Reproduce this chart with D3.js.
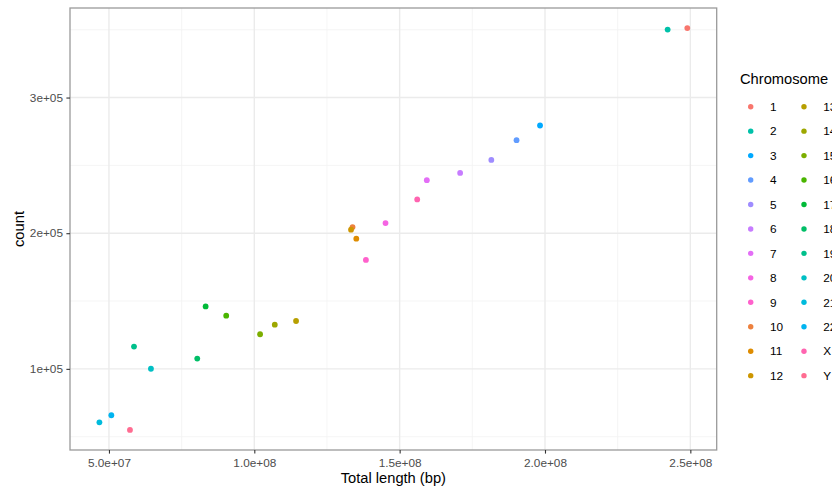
<!DOCTYPE html>
<html>
<head>
<meta charset="utf-8">
<script src="https://cdn.jsdelivr.net/npm/d3@7"></script>
<style>
  body { margin: 0; background: #fff; }
  text { font-family: "Liberation Sans", Arial, sans-serif; }
</style>
</head>
<body>
<script>
// data: chromosome, total length (bp), count
var chromosomes = ["1","2","3","4","5","6","7","8","9","10","11","12",
                   "13","14","15","16","17","18","19","20","21","22","X","Y"];
var lengths = [248956422, 242193529, 198295559, 190214555, 181538259, 170805979,
               159345973, 145138636, 138394717, 133797422, 135086622, 133275309,
               114364328, 107043718, 101991189, 90338345, 83257441, 80373285,
               58617616, 64444167, 46709983, 50818468, 156040895, 57227415];
var counts = [351200, 350100, 279400, 268600, 254000, 244400,
              239100, 207500, 180300, 204500, 196000, 202600,
              135300, 132600, 125500, 139200, 146000, 107600,
              116400, 100100, 60600, 65800, 224900, 55000];

var xTicks = [5e7, 1e8, 1.5e8, 2e8, 2.5e8];
var xTickLabels = ["5.0e+07", "1.0e+08", "1.5e+08", "2.0e+08", "2.5e+08"];
var yTicks = [1e5, 2e5, 3e5];
var yTickLabels = ["1e+05", "2e+05", "3e+05"];

var width = 832, height = 490;
var panel = { left: 70, right: 716.7, top: 8, bottom: 450 };

// ggplot hue palette (polar LUV, c=100, l=65)
function hclLuv(h, c, l) {
  var U = c * Math.cos(h * Math.PI / 180), V = c * Math.sin(h * Math.PI / 180);
  var Y = 100 * Math.pow((l + 16) / 116, 3);
  var u = U / (13 * l) + 0.1978398, v = V / (13 * l) + 0.4683363;
  var X = 9 * Y * u / (4 * v);
  var Z = -X / 3 - 5 * Y + 3 * Y / v;
  function g(t) {
    t = t > 0.00304 ? 1.055 * Math.pow(t, 1 / 2.4) - 0.055 : 12.92 * t;
    return Math.round(Math.max(0, Math.min(1, t)) * 255);
  }
  return d3.rgb(g((3.240479 * X - 1.53715 * Y - 0.498535 * Z) / 100),
                g((-0.969256 * X + 1.875992 * Y + 0.041556 * Z) / 100),
                g((0.055648 * X - 0.204043 * Y + 1.057311 * Z) / 100)).formatHex();
}
var levels = chromosomes.slice().sort(); // factor levels sorted as strings
var color = d3.scaleOrdinal()
  .domain(levels)
  .range(levels.map(function (d, i) { return hclLuv(15 + 360 * i / levels.length, 100, 65); }));

var data = chromosomes.map(function (c, i) {
  return { chr: c, len: lengths[i], count: counts[i] };
});

function expand(ext) {
  var r = ext[1] - ext[0];
  return [ext[0] - 0.05 * r, ext[1] + 0.05 * r];
}

var x = d3.scaleLinear().domain(expand(d3.extent(lengths))).range([panel.left, panel.right]);
var y = d3.scaleLinear().domain(expand(d3.extent(counts))).range([panel.bottom, panel.top]);

var svg = d3.select("body").append("svg")
  .attr("width", width)
  .attr("height", height);

// minor grid
var xMinor = xTicks.map(function (d) { return d - 2.5e7; }).concat([2.75e8])
  .filter(function (d) { return d > x.domain()[0] && d < x.domain()[1]; });
var yMinor = yTicks.map(function (d) { return d - 5e4; }).concat([3.5e5])
  .filter(function (d) { return d > y.domain()[0] && d < y.domain()[1]; });

svg.append("g").selectAll("line").data(xMinor).enter().append("line")
  .attr("x1", function (d) { return x(d); }).attr("x2", function (d) { return x(d); })
  .attr("y1", panel.top).attr("y2", panel.bottom)
  .attr("stroke", "#f2f2f2").attr("stroke-width", 0.8);
svg.append("g").selectAll("line").data(yMinor).enter().append("line")
  .attr("y1", function (d) { return y(d); }).attr("y2", function (d) { return y(d); })
  .attr("x1", panel.left).attr("x2", panel.right)
  .attr("stroke", "#f2f2f2").attr("stroke-width", 0.8);

// major grid
svg.append("g").selectAll("line").data(xTicks).enter().append("line")
  .attr("x1", function (d) { return x(d); }).attr("x2", function (d) { return x(d); })
  .attr("y1", panel.top).attr("y2", panel.bottom)
  .attr("stroke", "#ebebeb").attr("stroke-width", 1.4);
svg.append("g").selectAll("line").data(yTicks).enter().append("line")
  .attr("y1", function (d) { return y(d); }).attr("y2", function (d) { return y(d); })
  .attr("x1", panel.left).attr("x2", panel.right)
  .attr("stroke", "#ebebeb").attr("stroke-width", 1.4);

// points
svg.append("g").selectAll("circle").data(data).enter().append("circle")
  .attr("cx", function (d) { return x(d.len); })
  .attr("cy", function (d) { return y(d.count); })
  .attr("r", 2.9)
  .attr("fill", function (d) { return color(d.chr); });

// panel border
svg.append("rect")
  .attr("x", panel.left).attr("y", panel.top)
  .attr("width", panel.right - panel.left).attr("height", panel.bottom - panel.top)
  .attr("fill", "none").attr("stroke", "#9a9a9a").attr("stroke-width", 1.3);

// axes
var xAxis = svg.append("g")
  .attr("transform", "translate(0," + panel.bottom + ")")
  .call(d3.axisBottom(x).tickValues(xTicks)
    .tickFormat(function (d, i) { return xTickLabels[i]; })
    .tickSize(3.6).tickPadding(4.6));
var yAxis = svg.append("g")
  .attr("transform", "translate(" + panel.left + ",0)")
  .call(d3.axisLeft(y).tickValues(yTicks)
    .tickFormat(function (d, i) { return yTickLabels[i]; })
    .tickSize(3.6).tickPadding(3.4));

[xAxis, yAxis].forEach(function (a) {
  a.select(".domain").remove();
  a.selectAll(".tick line").attr("stroke", "#333").attr("stroke-width", 1.1);
  a.selectAll(".tick text")
    .attr("fill", "#4d4d4d")
    .style("font-size", "11.8px")
    .style("font-family", "'Liberation Sans', Arial, sans-serif");
});

// axis titles
svg.append("text")
  .attr("x", (panel.left + panel.right) / 2).attr("y", 483)
  .attr("text-anchor", "middle")
  .style("font-size", "14.7px")
  .text("Total length (bp)");
svg.append("text")
  .attr("transform", "translate(24," + (panel.top + panel.bottom) / 2 + ") rotate(-90)")
  .attr("text-anchor", "middle")
  .style("font-size", "14.7px")
  .text("count");

// legend
var legend = svg.append("g");
legend.append("text")
  .attr("x", 740).attr("y", 84)
  .style("font-size", "14.7px")
  .text("Chromosome");

var item = legend.selectAll("g.item").data(chromosomes).enter().append("g")
  .attr("class", "item")
  .attr("transform", function (d, i) {
    var col = Math.floor(i / 12), row = i % 12;
    return "translate(" + (750.7 + col * 53.3) + "," + (106.7 + row * 24.45) + ")";
  });
item.append("circle")
  .attr("r", 2.7)
  .attr("fill", function (d) { return color(d); });
item.append("text")
  .attr("x", 19.3).attr("dy", "0.36em")
  .style("font-size", "11.8px")
  .text(function (d) { return d; });
</script>
</body>
</html>
